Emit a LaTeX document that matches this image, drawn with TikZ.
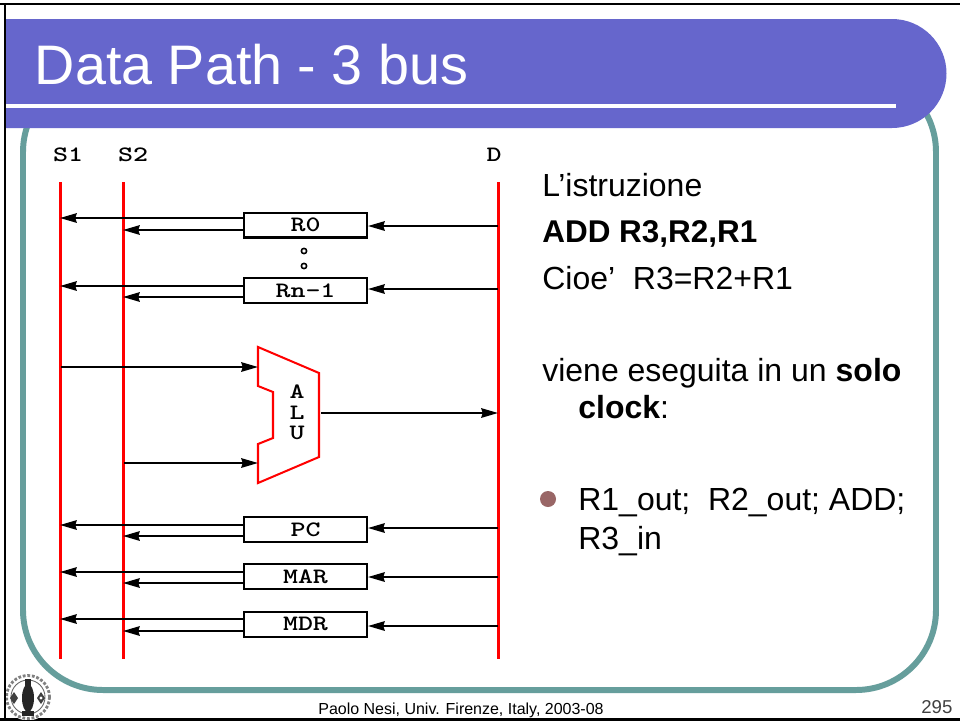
\documentclass[tikz,border=0pt]{standalone}
\usepackage{fontspec}
\usepackage{xcolor}
\usetikzlibrary{arrows.meta}
\setmainfont{Liberation Sans}
\definecolor{titleblue}{HTML}{6666CC}
\definecolor{frameteal}{HTML}{669E9C}
\definecolor{bulletbrown}{HTML}{996666}
\newcommand{\wide}[1]{\scalebox{1.3}[1]{\ttfamily\bfseries #1}}
\tikzset{
  busline/.style={red,line width=1.15pt},
  busarrow/.style={line width=1.15pt,-{Stealth[length=9.5pt,width=5.4pt,inset=0.8pt]}},
  regbox/.style={draw,line width=1.15pt,minimum width=2.46cm,minimum height=0.5cm,inner sep=0pt,fill=white,font=\fontsize{12.5}{12.5}\selectfont},
  buslabel/.style={inner sep=0pt,font=\fontsize{12.5}{12.5}\selectfont},
  regdot/.style={draw,circle,line width=0.9pt,inner sep=0pt,minimum size=3pt},
  bodytext/.style={anchor=base west,inner sep=0pt,font=\fontsize{18.2}{20}\selectfont}
}
\begin{document}
\begin{tikzpicture}[x=0.02cm,y=-0.02cm]
\useasboundingbox (0,0) rectangle (960,721);
\fill[white] (0,0) rectangle (960,721);

\draw[frameteal,line width=3.4pt,rounded corners=1.6cm] (23,72) rectangle (936,690);
\fill[titleblue] (5,19) -- (892,19) arc[start angle=-90,end angle=90,radius=54.5] -- (5,128) -- cycle;
\fill[white] (5,104) rectangle (896,108);
\draw[line width=1.5pt] (0,4) -- (960,4);
\draw[line width=1.5pt] (5,4) -- (5,721);
\draw[line width=1.5pt] (0,719.5) -- (960,719.5);

\node[anchor=base west,inner sep=0pt,white,font=\fontsize{31.7}{32}\selectfont] (title) at (34.5,84) {Data Path - 3 bus};

\coordinate (s1top) at (60.5,182);
\coordinate (s1bot) at (60.5,659);
\coordinate (s2top) at (123.5,182);
\coordinate (s2bot) at (123.5,659);
\coordinate (dtop) at (498.5,182);
\coordinate (dbot) at (498.5,659);
\draw[busline] (s1top) -- (s1bot);
\draw[busline] (s2top) -- (s2bot);
\draw[busline] (dtop) -- (dbot);
\node[buslabel] (s1) at (68,155) {\wide{S1}};
\node[buslabel] (s2) at (133,155) {\wide{S2}};
\node[buslabel] (d) at (494,155) {\wide{D}};

\node[regbox] (r0) at (305.5,225) {\wide{R0}};
\node[regbox] (rn) at (305.5,290.5) {\wide{Rn-1}};
\node[regbox] (pc) at (305.5,529.5) {\wide{PC}};
\node[regbox] (mar) at (305.5,576.5) {\wide{MAR}};
\node[regbox] (mdr) at (305.5,624) {\wide{MDR}};
\node[regdot] (dota) at (304,251) {};
\node[regdot] (dotb) at (304,266) {};

\coordinate (s1r0) at (60,218);
\coordinate (s2r0) at (123,230);
\coordinate (dr0) at (498,226);
\draw[busarrow] (r0.west |- s1r0) -- (s1r0);
\draw[busarrow] (r0.west |- s2r0) -- (s2r0);
\draw[busarrow] (dr0) -- (r0.east |- dr0);
\coordinate (s1rn) at (60,286);
\coordinate (s2rn) at (123,297);
\coordinate (drn) at (498,289);
\draw[busarrow] (rn.west |- s1rn) -- (s1rn);
\draw[busarrow] (rn.west |- s2rn) -- (s2rn);
\draw[busarrow] (drn) -- (rn.east |- drn);
\coordinate (s1pc) at (60,525);
\coordinate (s2pc) at (123,536);
\coordinate (dpc) at (498,528);
\draw[busarrow] (pc.west |- s1pc) -- (s1pc);
\draw[busarrow] (pc.west |- s2pc) -- (s2pc);
\draw[busarrow] (dpc) -- (pc.east |- dpc);
\coordinate (s1mar) at (60,572);
\coordinate (s2mar) at (123,583);
\coordinate (dmar) at (498,577);
\draw[busarrow] (mar.west |- s1mar) -- (s1mar);
\draw[busarrow] (mar.west |- s2mar) -- (s2mar);
\draw[busarrow] (dmar) -- (mar.east |- dmar);
\coordinate (s1mdr) at (60,619);
\coordinate (s2mdr) at (123,631);
\coordinate (dmdr) at (498,626);
\draw[busarrow] (mdr.west |- s1mdr) -- (s1mdr);
\draw[busarrow] (mdr.west |- s2mdr) -- (s2mdr);
\draw[busarrow] (dmdr) -- (mdr.east |- dmdr);

\draw[busline,line join=miter] (258,347) -- (319,373) -- (319,457) -- (258,483) -- (258,444) -- (273,438) -- (273,392) -- (258,386) -- cycle;
\node[buslabel] (alua) at (297,392) {\wide{A}};
\node[buslabel] (alul) at (297,413) {\wide{L}};
\node[buslabel] (aluu) at (297,433) {\wide{U}};
\coordinate (aluin1) at (258,367);
\coordinate (aluin2) at (258,463);
\coordinate (aluout) at (321,413);
\coordinate (s1alu) at (61,367);
\coordinate (s2alu) at (124,463);
\coordinate (dalu) at (498,413);
\draw[busarrow] (s1alu) -- (aluin1);
\draw[busarrow] (s2alu) -- (aluin2);
\draw[busarrow] (aluout) -- (dalu);

\node[bodytext] (l1) at (542,196) {L’istruzione};
\node[bodytext,font=\fontsize{17.9}{20}\selectfont\bfseries] (l2) at (542,242) {ADD R3,R2,R1};
\node[bodytext] (l3) at (542,289) {Cioe’\ \ R3=R2+R1};
\node[bodytext] (l4) at (542,381) {viene eseguita in un \textbf{solo}};
\node[bodytext] (l5) at (578,418) {\textbf{clock}:};
\node[circle,fill=bulletbrown,inner sep=0pt,minimum size=0.32cm] (bullet) at (548,499) {};
\node[bodytext] (l6) at (578,510) {R1\_out;\ \ R2\_out; ADD;};
\node[bodytext] (l7) at (578,549) {R3\_in};

\node[anchor=base west,inner sep=0pt,font=\fontsize{9.1}{10}\selectfont] (foot) at (318,714) {Paolo Nesi, Univ. Firenze, Italy, 2003-08};
\node[anchor=base west,inner sep=0pt,black!75,font=\fontsize{10.6}{11}\selectfont] (page) at (921,713) {295};

\begin{scope}
\clip (6,670) rectangle (60,719);
\fill[white] (28,697) circle (23.5);
\draw[black!50,line width=1.6pt,densely dotted] (28,697) circle (21.5);
\draw[black!60,line width=0.5pt] (28,697) circle (17);
\fill[black!85] (25,679) rectangle (31,686);
\fill[black!85] (28,698) ellipse (6 and 14);
\fill[black!85] (22,711) rectangle (34,716);
\fill[black!75] (10,698) -- (14,692) -- (18,698) -- (14,704) -- cycle;
\fill[black!75] (37,698) -- (41,692) -- (45,698) -- (41,704) -- cycle;
\fill[white] (41,698) circle (1.6);
\end{scope}
\end{tikzpicture}
\end{document}
